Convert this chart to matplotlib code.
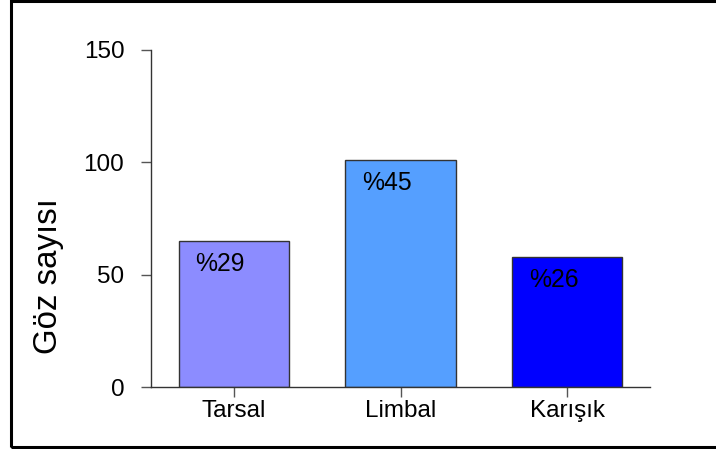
import matplotlib.pyplot as plt
from matplotlib.patches import Rectangle

# data
categories = ['Tarsal', 'Limbal', 'Karışık']
counts = [65, 101, 58]
percent_labels = ['%29', '%45', '%26']
bar_colors = ['#8C8CFF', '#559FFF', '#0000FF']

plt.rcParams['font.family'] = ['Liberation Sans', 'DejaVu Sans']

fig = plt.figure(figsize=(7.16, 4.49), dpi=100)
ax = fig.add_axes([150.7 / 716, (449 - 387.3) / 449, 499.6 / 716, 337.3 / 449])

x = range(len(categories))
bars = ax.bar(x, counts, width=0.665, color=bar_colors, edgecolor='#333333', linewidth=1.0)

# percentage labels near the top left corner of each bar
for b, lab in zip(bars, percent_labels):
    ax.annotate(lab, xy=(b.get_x(), b.get_height()), xytext=(17, -11),
                textcoords='offset pixels', ha='left', va='top', fontsize=17.8, color='black')

ax.set_xlim(-0.5, 2.5)
ax.set_ylim(0, 150)
ax.set_yticks([0, 50, 100, 150])
ax.set_xticks(list(x))
ax.set_xticklabels(categories)

for s in ['top', 'right']:
    ax.spines[s].set_visible(False)
for s in ['left', 'bottom']:
    ax.spines[s].set_color('#333333')
    ax.spines[s].set_linewidth(1.0)

ax.tick_params(axis='y', direction='out', length=7, width=1, color='#555555', pad=12, labelsize=17.5)
ax.tick_params(axis='x', direction='out', length=7, width=1, color='#555555', pad=2.5, labelsize=17.5)

fig.text(49 / 716, 1 - 275.8 / 449, 'Göz sayısı', rotation=90, ha='center', va='center', fontsize=23.8)

# outer frame, open on the right like the reference
fig.patches.append(Rectangle((11 / 716, 2 / 449), 1.1, 446 / 449, transform=fig.transFigure,
                             fill=False, edgecolor='black', linewidth=2.2, clip_on=False))

fig.savefig('out.png', dpi=100)
